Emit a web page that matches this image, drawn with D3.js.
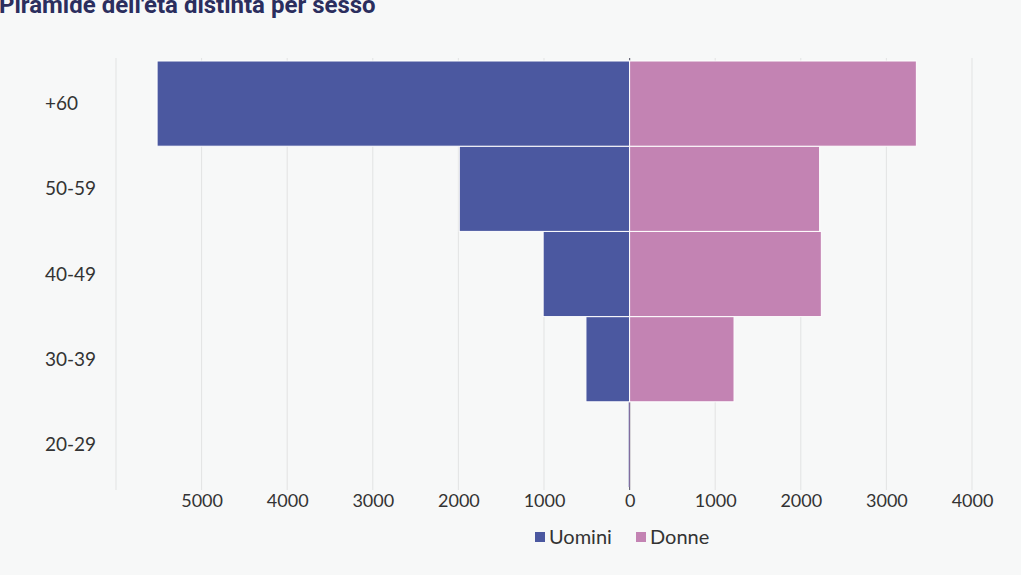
<!DOCTYPE html>
<html><head><meta charset="utf-8">
<script src="https://cdn.jsdelivr.net/npm/d3@7"></script>
<style>
html,body{margin:0;padding:0;background:#f7f8f8;}
svg{display:block;}
</style></head>
<body>
<svg id="chart" width="1021" height="575"></svg>
<script>
const categories = ["20-29", "30-39", "40-49", "50-59", "+60"];
const uomini = [10, 510, 1010, 1990, 5520];
const donne = [5, 1220, 2240, 2220, 3350];
const tickValues = [-6000, -5000, -4000, -3000, -2000, -1000, 0, 1000, 2000, 3000, 4000];
const tickLabels = ["", "5000", "4000", "3000", "2000", "1000", "0", "1000", "2000", "3000", "4000"];
const seriesNames = ["Uomini", "Donne"];
const colors = ["#4b58a0", "#c383b3"];
const title = "Piramide dell'età distinta per sesso";

const svg = d3.select("#chart");
const font = "Lato, 'Open Sans', sans-serif";

const x = d3.scaleLinear().domain([-6000, 4000]).range([116, 972]);
const y = d3.scaleBand().domain(categories.slice().reverse()).range([61, 487]).paddingInner(0).paddingOuter(0);

// title (partially cut at the top, as in the scan)
svg.append("text").attr("x", -1).attr("y", 13)
  .attr("font-family", "Roboto, sans-serif").attr("font-weight", 700)
  .attr("font-size", 24).attr("fill", "#2b2e5e").text(title);

// gridlines
svg.append("g").selectAll("line").data(tickValues).join("line")
  .attr("x1", d => x(d)).attr("x2", d => x(d))
  .attr("y1", 58).attr("y2", 490)
  .attr("stroke", "#e2e3e3").attr("stroke-width", 1);

// zero axis line
svg.append("line").attr("x1", x(0)).attr("x2", x(0)).attr("y1", 58).attr("y2", 490)
  .attr("stroke", "#6a6a7a").attr("stroke-width", 1.2);

// bars
const rows = categories.map((c, i) => ({c, u: uomini[i], d: donne[i]}));
svg.append("g").selectAll("rect").data(rows).join("rect")
  .attr("x", d => x(-d.u)).attr("y", d => y(d.c))
  .attr("width", d => x(0) - x(-d.u)).attr("height", y.bandwidth())
  .attr("fill", colors[0]).attr("stroke", "#ffffff").attr("stroke-width", d => d.u > 50 ? 1 : 0);
svg.append("g").selectAll("rect").data(rows).join("rect")
  .attr("x", x(0)).attr("y", d => y(d.c))
  .attr("width", d => x(d.d) - x(0)).attr("height", y.bandwidth())
  .attr("fill", colors[1]).attr("stroke", "#ffffff").attr("stroke-width", d => d.d > 50 ? 1 : 0);

// y labels
svg.append("g").selectAll("text").data(categories).join("text")
  .attr("x", 45).attr("y", d => y(d) + y.bandwidth() / 2)
  .attr("dy", "0.35em").attr("font-family", font).attr("font-size", 19)
  .attr("fill", "#333").text(d => d);

// x tick labels
const xAxis = d3.axisBottom(x).tickValues(tickValues)
  .tickFormat((d, i) => tickLabels[i]).tickSize(0).tickPadding(0);
const gx = svg.append("g").attr("transform", "translate(0,488)").call(xAxis);
gx.select(".domain").remove();
gx.selectAll("text").attr("font-family", font).attr("font-size", 18)
  .attr("fill", "#333").attr("dy", "1.05em");

// legend
const leg = svg.append("g").attr("transform", "translate(535,537)");
const items = leg.selectAll("g").data(seriesNames).join("g")
  .attr("transform", (d, i) => `translate(${i * 101},0)`);
items.append("rect").attr("x", 0).attr("y", -5).attr("width", 10).attr("height", 10)
  .attr("fill", (d, i) => colors[i]);
items.append("text").attr("x", 14).attr("y", 0).attr("dy", "0.35em")
  .attr("font-family", font).attr("font-size", 20).attr("fill", "#333").text(d => d);
</script>
</body></html>
